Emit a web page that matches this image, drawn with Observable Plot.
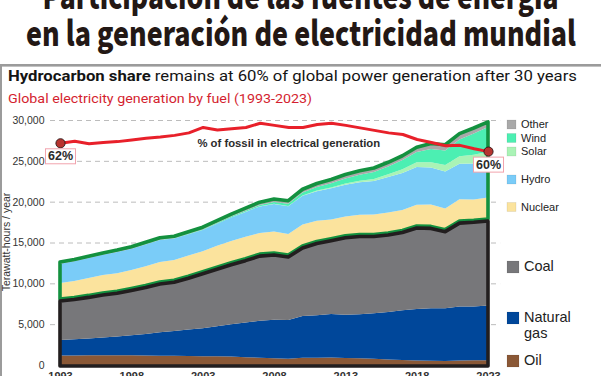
<!DOCTYPE html>
<html>
<head>
<meta charset="utf-8">
<script src="https://cdn.jsdelivr.net/npm/d3@7"></script>
<script src="https://cdn.jsdelivr.net/npm/@observablehq/plot@0.6"></script>
<style>
  html, body { margin: 0; padding: 0; background: #fff; }
  #wrap { position: relative; width: 601px; height: 376px; overflow: hidden; background: #fff; }
  #head, #plot, #legend, #frameLeft { position: absolute; left: 0; }
</style>
</head>
<body>
<div id="wrap">
  <svg id="head" width="601" height="110" style="top:0">
    <text x="300.5" y="9" text-anchor="middle" font-family="Noto Sans CJK JP" font-weight="900" font-size="34" fill="#231815" textLength="516" lengthAdjust="spacingAndGlyphs">Participación de las fuentes de energía</text>
    <text x="301" y="46" text-anchor="middle" font-family="Noto Sans CJK JP" font-weight="900" font-size="34" fill="#231815" textLength="550" lengthAdjust="spacingAndGlyphs">en la generación de electricidad mundial</text>
    <rect x="0" y="64" width="601" height="2.6" fill="#9b9b9b"></rect>
    <text x="8" y="81" font-family="Roboto" font-size="15" fill="#141414" textLength="569" lengthAdjust="spacingAndGlyphs"><tspan font-weight="700">Hydrocarbon share</tspan> remains at 60% of global power generation after 30 years</text>
    <text x="8" y="103" font-family="Roboto" font-size="13.5" fill="#d41f30" textLength="304" lengthAdjust="spacingAndGlyphs">Global electricity generation by fuel (1993-2023)</text>
  </svg>
  <div id="frameLeft" style="top:64px;width:2px;height:312px;background:#9b9b9b"></div>
  <div id="plot" style="top:108px"></div>
  <svg id="legend" width="601" height="376" style="top:0;pointer-events:none"></svg>
</div>
<script>
// ---------- data (TWh per year) ----------
const years = [1993,1994,1995,1996,1997,1998,1999,2000,2001,2002,2003,2004,2005,2006,2007,2008,2009,2010,2011,2012,2013,2014,2015,2016,2017,2018,2019,2020,2021,2022,2023];
const oil     = [1150,1150,1180,1180,1180,1180,1150,1130,1120,1100,1080,1060,1030,960,900,820,780,880,900,920,860,820,780,680,620,560,520,500,560,580,580];
const gas     = [1910,2000,2080,2200,2320,2460,2650,2870,3030,3250,3420,3690,3970,4240,4520,4730,4720,5120,5200,5330,5290,5380,5570,5820,6080,6290,6430,6450,6590,6570,6720];
const coal    = [4890,5000,5140,5320,5400,5610,5800,6050,6100,6400,6800,7100,7400,7700,8030,8050,7850,8450,8900,9100,9550,9650,9500,9550,9650,10050,9900,9500,10350,10450,10450];
const nuclear = [2090,2150,2250,2330,2330,2390,2490,2550,2620,2650,2620,2750,2770,2800,2720,2740,2700,2760,2650,2470,2490,2540,2570,2610,2640,2710,2790,2700,2800,2680,2750];
const hydro   = [2346,2400,2444,2457,2600,2583,2670,2693,2611,2607,2615,2697,2900,3050,3250,3388,3394,3522,3639,3830,3885,3995,4120,4355,4520,4630,4550,4550,4350,4400,4450];
const solar   = [0,0,0,0,0,0,0,1,1,1,2,3,4,6,8,12,20,32,64,100,135,190,250,330,450,580,650,800,900,1050,1150];
const wind    = [4,5,6,8,10,12,20,31,38,52,63,85,104,133,170,220,276,346,437,520,640,710,830,960,1130,1270,1600,1770,2050,2610,3030];
const other   = [90,95,100,105,110,115,120,125,130,140,150,165,180,200,220,240,260,290,310,330,350,365,380,395,410,460,560,580,600,560,520];
// % of fossil fuels in electrical generation
const fossilShare = [62.0,62.5,61.9,62.2,62.4,62.8,63.2,63.5,63.9,64.5,65.8,65.2,65.5,65.8,66.8,66.3,65.8,65.8,66.5,66.8,66.3,65.7,65.1,64.5,64.1,62.9,62.2,61.4,61.5,60.7,60.0];

const sources = ["Oil","Natural gas","Coal","Nuclear","Hydro","Solar","Wind","Other"];
const colors  = ["#8a5836","#00479a","#77777a","#fbe39d","#7accf8","#aaf3b6","#4cefb2","#a9a9a9"];
const series  = [oil, gas, coal, nuclear, hydro, solar, wind, other];

const yTicks = [0,5000,10000,15000,20000,25000,30000];
const xTicks = [1993,1998,2003,2008,2013,2018,2023];
const yTitle = "Terawatt-hours / year";
const notes = [{text: "% of fossil in electrical generation", year: 2009, value: 27150}];

// ---------- derived tables ----------
const table = [];
sources.forEach((s, k) => years.forEach((yr, i) => table.push({year: yr, source: s, value: series[k][i]})));
const rows = years.map((yr, i) => {
  const fossil = oil[i] + gas[i] + coal[i];
  const total = fossil + nuclear[i] + hydro[i] + solar[i] + wind[i] + other[i];
  return {year: yr, fossil, total, share: fossilShare[i]};
});
// secondary mapping of the share (%) onto the TWh axis
const shareY = p => 27210 + (p - 62) * 510;
const ends = [rows[0], rows[rows.length - 1]];
const gridFrom = 1992.3, gridTo = 2023.85;
const fmt = d3.format(",");

const chart = Plot.plot({
  width: 601,
  height: 280,
  marginLeft: 60,
  marginRight: 113,
  marginTop: 12,
  marginBottom: 23,
  style: {fontFamily: "Liberation Sans, Arial, sans-serif", fontSize: "10.5px", color: "#333", background: "transparent", overflow: "visible"},
  x: {domain: [1993, 2023], range: [60, 488]},
  y: {domain: [0, 30000], range: [257, 12]},
  color: {domain: sources, range: colors},
  marks: [
    Plot.ruleY(yTicks.slice(1), {x1: gridFrom, x2: gridTo, stroke: "#bcbcbc", strokeDasharray: "5,4", strokeWidth: 1}),
    Plot.areaY(table, {x: "year", y: "value", fill: "source", order: sources}),
    Plot.areaY(rows, {x: "year", y1: "fossil", y2: "total", fill: "none", stroke: "#13913f", strokeWidth: 3.6, strokeLinejoin: "round", dy: -1}),
    Plot.areaY(rows, {x: "year", y1: 0, y2: "fossil", fill: "none", stroke: "#221e1f", strokeWidth: 3.6, strokeLinejoin: "round", dy: 1}),
    Plot.line(rows, {x: "year", y: d => shareY(d.share), stroke: "#e8202a", strokeWidth: 3, strokeLinejoin: "round"}),
    Plot.dot(ends, {x: "year", y: d => shareY(d.share), r: 4.6, fill: "#b7342f", stroke: "#2a1a1a", strokeWidth: 0.9}),
    Plot.text(ends, {x: "year", y: d => shareY(d.share), text: d => Math.round(d.share) + "%", dy: 13, fontWeight: "bold", fontSize: 12.5, fill: "#2b2b2b", ariaDescription: "pct-labels"}),
    Plot.text(notes, {x: "year", y: "value", text: "text", fontWeight: "bold", fontSize: 11.3, fill: "#2b2b2b"}),
    Plot.axisY({ticks: yTicks, tickFormat: d => fmt(d), tickSize: 0, tickPadding: 16, fontSize: 10.5, fill: "#333", label: null}),
    Plot.axisX({ticks: xTicks, tickFormat: d => String(d), tickSize: 0, tickPadding: 7, fontSize: 11, fontWeight: "bold", fill: "#333", label: null})
  ]
});
document.getElementById("plot").appendChild(chart);

// boxes behind the percentage labels
const ns = "http://www.w3.org/2000/svg";
chart.querySelectorAll('g[aria-description="pct-labels"] text').forEach(t => {
  const b = t.getBBox();
  const r = document.createElementNS(ns, "rect");
  r.setAttribute("x", b.x - 2.5); r.setAttribute("y", b.y - 0.5);
  r.setAttribute("width", b.width + 5); r.setAttribute("height", b.height + 1);
  r.setAttribute("fill", "#fff"); r.setAttribute("stroke", "#f2a3ad"); r.setAttribute("stroke-width", 1);
  const tr = t.getAttribute("transform"); if (tr) r.setAttribute("transform", tr);
  t.parentNode.insertBefore(r, t);
});

// y-axis title and legend
const lg = d3.select("#legend");
lg.append("text").attr("transform", "translate(9.5,242) rotate(-90)").attr("text-anchor", "middle")
  .attr("font-family", "Liberation Sans, Arial, sans-serif").attr("font-size", 10.5).attr("fill", "#333").text(yTitle);
const legendItems = [
  {k: 7, top: 120, size: 9, font: 11, lines: ["Other"]},
  {k: 6, top: 133.5, size: 9, font: 11, lines: ["Wind"]},
  {k: 5, top: 147, size: 9, font: 11, lines: ["Solar"]},
  {k: 4, top: 175, size: 9, font: 11, lines: ["Hydro"]},
  {k: 3, top: 202.5, size: 9, font: 11, lines: ["Nuclear"]},
  {k: 2, top: 261, size: 12, font: 14.5, lines: ["Coal"]},
  {k: 1, top: 312, size: 12, font: 14.5, lines: ["Natural", "gas"]},
  {k: 0, top: 355, size: 12, font: 14.5, lines: ["Oil"]}
];
legendItems.forEach(it => {
  lg.append("rect").attr("x", 507).attr("y", it.top).attr("width", it.size).attr("height", it.size)
    .attr("fill", colors[it.k]).attr("stroke", "rgba(0,0,0,0.12)").attr("stroke-width", 0.6);
  it.lines.forEach((ln, j) => {
    lg.append("text").attr("x", it.size > 10 ? 524 : 521)
      .attr("y", it.top + (it.size > 10 ? 10 : 8.3) + j * 16)
      .attr("font-family", "Liberation Sans, Arial, sans-serif").attr("font-size", it.font)
      .attr("fill", "#222").text(ln);
  });
});
</script>
</body>
</html>
